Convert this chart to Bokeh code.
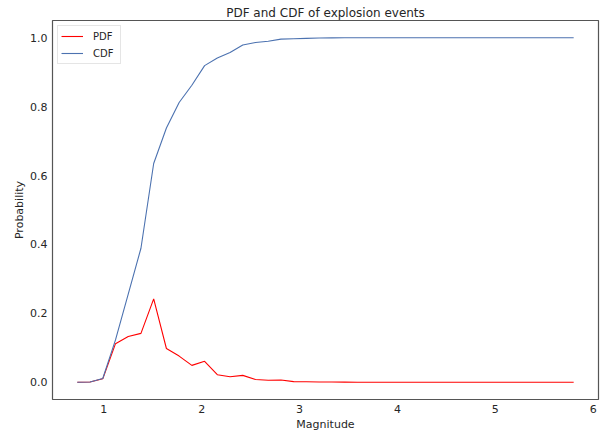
from bokeh.plotting import figure
from bokeh.models import Range1d, FixedTicker, PrintfTickFormatter, Legend, LegendItem
from bokeh.embed import file_html
from bokeh.resources import INLINE

magnitude = [0.73, 0.86, 0.99, 1.12, 1.25, 1.38, 1.51, 1.64, 1.77, 1.90,
             2.03, 2.16, 2.29, 2.42, 2.55, 2.68, 2.81, 2.94, 3.07, 3.20,
             3.33, 3.46, 3.59, 3.72, 3.85, 3.98, 4.11, 4.24, 4.37, 4.50,
             4.63, 4.76, 4.89, 5.02, 5.15, 5.28, 5.41, 5.54, 5.67, 5.80]
pdf = [0.0, 0.001, 0.010, 0.112, 0.133, 0.142, 0.242, 0.098, 0.076, 0.049,
       0.061, 0.022, 0.016, 0.020, 0.008, 0.006, 0.0065, 0.002, 0.0015, 0.001,
       0.001, 0.0005, 0.0, 0.0, 0.0, 0.0, 0.0, 0.0, 0.0, 0.0,
       0.0, 0.0, 0.0, 0.0, 0.0, 0.0, 0.0, 0.0, 0.0, 0.0]
cdf = [0.0, 0.001, 0.011, 0.123, 0.256, 0.389, 0.635, 0.738, 0.812, 0.862,
       0.919, 0.941, 0.957, 0.979, 0.986, 0.990, 0.996, 0.997, 0.998, 0.999,
       0.9995, 1.0, 1.0, 1.0, 1.0, 1.0, 1.0, 1.0, 1.0, 1.0,
       1.0, 1.0, 1.0, 1.0, 1.0, 1.0, 1.0, 1.0, 1.0, 1.0]
x_ticks = [1, 2, 3, 4, 5, 6]
y_ticks = [0.0, 0.2, 0.4, 0.6, 0.8, 1.0]

FONT = "DejaVu Sans"
TXT = "#262626"

p = figure(width=605, height=433, output_backend="svg", toolbar_location=None,
           x_range=Range1d(0.4765, 6.0535), y_range=Range1d(-0.05, 1.05),
           title="PDF and CDF of explosion events")
p.min_border_left = 52
p.min_border_right = 7
p.min_border_top = 20
p.min_border_bottom = 34

p.title.align = "center"
p.title.text_font = FONT
p.title.text_font_size = "12px"
p.title.text_font_style = "normal"
p.title.text_color = TXT
p.title.standoff = 2

p.background_fill_color = "white"
p.border_fill_color = "white"
p.outline_line_color = "#555555"
p.outline_line_width = 1.2
p.grid.visible = False

for ax in (p.xaxis[0], p.yaxis[0]):
    ax.axis_line_color = None
    ax.major_tick_line_color = None
    ax.minor_tick_line_color = None
    ax.major_tick_out = 0
    ax.major_tick_in = 0
    ax.minor_tick_out = 0
    ax.minor_tick_in = 0
    ax.major_label_text_font = FONT
    ax.major_label_text_font_size = "11px"
    ax.major_label_text_color = TXT
    ax.axis_label_text_font = FONT
    ax.axis_label_text_font_size = "11px"
    ax.axis_label_text_font_style = "normal"
    ax.axis_label_text_color = TXT

p.xaxis.ticker = FixedTicker(ticks=x_ticks)
p.yaxis.ticker = FixedTicker(ticks=y_ticks)
p.yaxis.formatter = PrintfTickFormatter(format="%.1f")
p.xaxis.axis_label = "Magnitude"
p.yaxis.axis_label = "Probability"
p.xaxis.major_label_standoff = 5
p.yaxis.major_label_standoff = 5
p.xaxis.axis_label_standoff = 2
p.yaxis.axis_label_standoff = 1

r_pdf = p.line(magnitude, pdf, line_color="#ff0000", line_width=1.1)
r_cdf = p.line(magnitude, cdf, line_color="#4c72b0", line_width=1.1)

legend = Legend(items=[LegendItem(label="PDF", renderers=[r_pdf]),
                       LegendItem(label="CDF", renderers=[r_cdf])],
                location="top_left")
legend.label_text_font = FONT
legend.label_text_font_size = "10px"
legend.label_text_color = TXT
legend.border_line_color = "#cccccc"
legend.border_line_width = 1
legend.background_fill_alpha = 0.8
legend.glyph_width = 22
legend.glyph_height = 14
legend.label_height = 14
legend.label_width = 24
legend.spacing = 3
legend.padding = 3
legend.margin = 5
legend.label_standoff = 10
p.add_layout(legend)

open("out.html", "w").write(file_html(p, INLINE))
